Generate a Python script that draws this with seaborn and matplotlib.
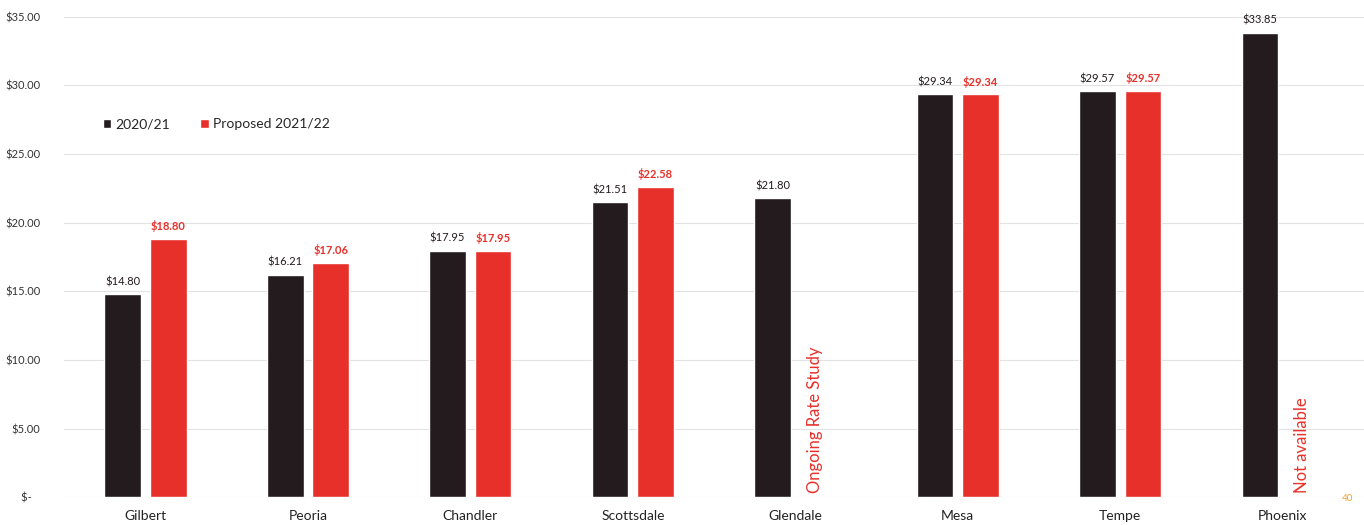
import numpy as np
import pandas as pd
import matplotlib
matplotlib.use("Agg")
import matplotlib.pyplot as plt
from matplotlib.patches import Patch
import seaborn as sns

# Monthly residential rate by city
cities = ["Gilbert", "Peoria", "Chandler", "Scottsdale", "Glendale", "Mesa", "Tempe", "Phoenix"]
rates_2020_21 = [14.80, 16.21, 17.95, 21.51, 21.80, 29.34, 29.57, 33.85]
rates_proposed = [18.80, 17.06, 17.95, 22.58, np.nan, 29.34, 29.57, np.nan]
series_names = ["2020/21", "Proposed 2021/22"]
y_ticks = [0, 5, 10, 15, 20, 25, 30, 35]
notes = {"Glendale": "Ongoing Rate Study", "Phoenix": "Not available"}

BLACK = "#231b1d"
RED = "#e8302a"

df = pd.DataFrame({
    "city": cities * 2,
    "series": [series_names[0]] * len(cities) + [series_names[1]] * len(cities),
    "rate": rates_2020_21 + rates_proposed,
})

sns.set_theme(style="white")
plt.rcParams["font.family"] = ["Lato", "DejaVu Sans"]

fig = plt.figure(figsize=(13.64, 5.25), dpi=100)
ax = fig.add_axes([0.047, 0.053, 0.953, 0.915])

sns.barplot(data=df, x="city", y="rate", hue="series", order=cities,
            hue_order=series_names, palette=[BLACK, RED], width=0.56, gap=0.19,
            saturation=1, ax=ax, legend=False)

# value labels above each bar
label_colors = [BLACK, RED]
label_weights = ["normal", "bold"]
for cont, col, w in zip(ax.containers, label_colors, label_weights):
    labels = ["" if np.isnan(v) else f"${v:.2f}" for v in cont.datavalues]
    ax.bar_label(cont, labels=labels, padding=5, fontsize=8, color=col, fontweight=w)

# notes for cities without a proposed rate
for i, c in enumerate(cities):
    if c in notes:
        ax.text(i + 0.12, 0.3, notes[c], rotation=90, ha="center", va="bottom",
                color=RED, fontsize=12)

ax.set_xlim(-0.5, len(cities) - 0.5)
ax.set_ylim(0, 35)
ax.set_yticks(y_ticks)
ax.set_yticklabels(["$-   "] + [f"${t:.2f}" for t in y_ticks[1:]], fontsize=8, color="#333333")
ax.tick_params(axis="y", pad=17, length=0)
ax.tick_params(axis="x", pad=9, length=0, labelsize=10, labelcolor="#222222")
ax.set_xlabel("")
ax.set_ylabel("")
ax.grid(axis="y", color="#e2e2e2", linewidth=0.8)
ax.set_axisbelow(True)
for s in ax.spines.values():
    s.set_visible(False)

handles = [Patch(facecolor=BLACK), Patch(facecolor=RED)]
ax.legend(handles, series_names, loc="upper left", bbox_to_anchor=(0.02, 0.815),
          ncol=2, frameon=False, fontsize=10, handlelength=0.6, handleheight=0.6,
          handletextpad=0.3, columnspacing=2.2)

fig.text(0.988, 0.05, "40", color="#f0a030", fontsize=7, ha="center", va="center")

fig.savefig("out.png", dpi=100, facecolor="white")
